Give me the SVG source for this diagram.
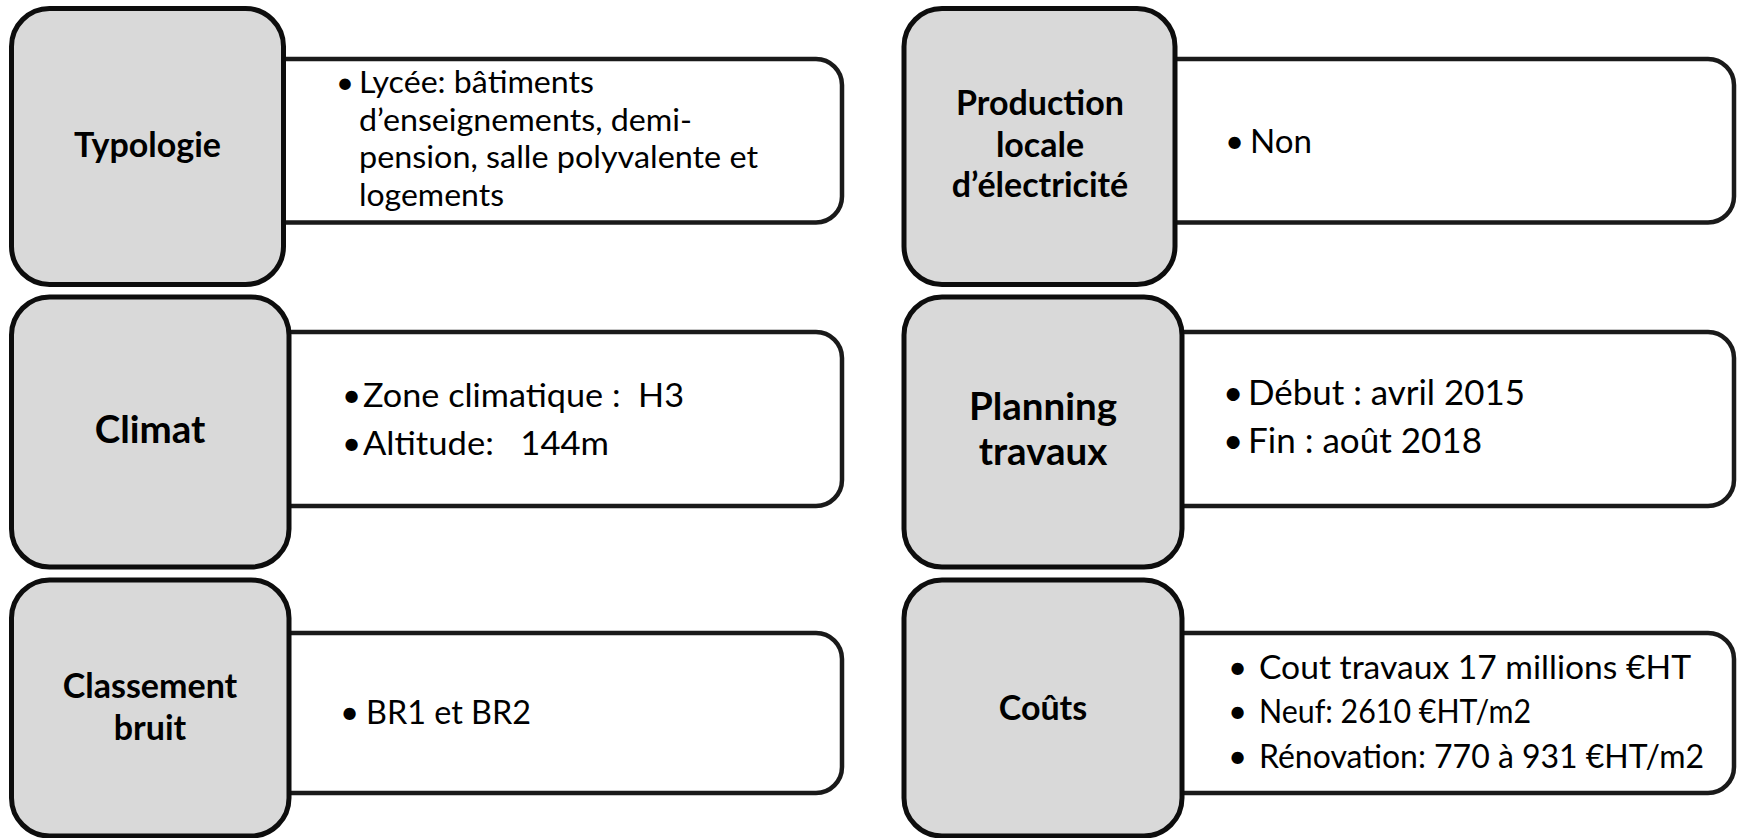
<svg xmlns="http://www.w3.org/2000/svg" width="1737" height="838" viewBox="0 0 1737 838">
<style>
.bg{fill:#ffffff}
.hd{fill:#d9d9d9;stroke:#0d0d0d;stroke-width:5}
.ct{fill:#ffffff;stroke:#1a1a1a;stroke-width:4.5}
.ht{font-family:Lato,"Liberation Sans",sans-serif;font-weight:bold;fill:#000;text-anchor:middle}
.bt{font-family:Lato,"Liberation Sans",sans-serif;fill:#000}
</style>
<rect class="bg" x="0" y="0" width="1737" height="838"/>
<g id="connectors"></g>

<g id="typologie">
  <rect class="ct" x="240" y="59" width="602" height="163.5" rx="26"/>
  <rect class="hd" x="11.5" y="8.5" width="272" height="276" rx="38"/>
  <text class="ht" x="147.5" y="157" font-size="34">Typologie</text>
  <text class="bt" font-size="31" x="336" y="93">•</text>
  <text class="bt" font-size="31" x="359" y="93" textLength="235" lengthAdjust="spacingAndGlyphs">Lycée: bâtiments</text>
  <text class="bt" font-size="31" x="359" y="130.5" textLength="333" lengthAdjust="spacingAndGlyphs">d’enseignements, demi-</text>
  <text class="bt" font-size="31" x="359" y="168" textLength="399" lengthAdjust="spacingAndGlyphs">pension, salle polyvalente et</text>
  <text class="bt" font-size="31" x="359" y="205.5" textLength="145" lengthAdjust="spacingAndGlyphs">logements</text>
</g>

<g id="climat">
  <rect class="ct" x="240" y="332" width="602" height="174" rx="26"/>
  <rect class="hd" x="11.5" y="297" width="277.5" height="270" rx="38"/>
  <text class="ht" x="150" y="443" font-size="38.5">Climat</text>
  <text class="bt" font-size="33" x="342" y="407">•</text>
  <text class="bt" font-size="33" x="363" y="407" xml:space="preserve" textLength="321" lengthAdjust="spacingAndGlyphs">Zone climatique :  H3</text>
  <text class="bt" font-size="33" x="342" y="455">•</text>
  <text class="bt" font-size="33" x="363" y="455" xml:space="preserve" textLength="246" lengthAdjust="spacingAndGlyphs">Altitude:   144m</text>
</g>

<g id="classement">
  <rect class="ct" x="240" y="633" width="602" height="160" rx="26"/>
  <rect class="hd" x="11.5" y="580" width="277.5" height="256" rx="38"/>
  <text class="ht" x="150" y="698" font-size="34">Classement</text>
  <text class="ht" x="150" y="740" font-size="34">bruit</text>
  <text class="bt" font-size="33" x="340" y="724">•</text>
  <text class="bt" font-size="33" x="366" y="724" textLength="165" lengthAdjust="spacingAndGlyphs">BR1 et BR2</text>
</g>

<g id="production">
  <rect class="ct" x="1130" y="59" width="604" height="163.5" rx="26"/>
  <rect class="hd" x="904" y="8.5" width="271" height="276" rx="38"/>
  <text class="ht" x="1040" y="115" font-size="34">Production</text>
  <text class="ht" x="1040" y="157" font-size="34">locale</text>
  <text class="ht" x="1040" y="197" font-size="34">d’électricité</text>
  <text class="bt" font-size="33" x="1225" y="153">•</text>
  <text class="bt" font-size="33" x="1250" y="153" textLength="62" lengthAdjust="spacingAndGlyphs">Non</text>
</g>

<g id="planning">
  <rect class="ct" x="1130" y="332" width="604" height="174" rx="26"/>
  <rect class="hd" x="904" y="297" width="278" height="270" rx="38"/>
  <text class="ht" x="1043" y="420" font-size="38.5">Planning</text>
  <text class="ht" x="1043" y="465" font-size="38.5">travaux</text>
  <text class="bt" font-size="35" x="1223" y="405">•</text>
  <text class="bt" font-size="35" x="1248" y="405" textLength="277" lengthAdjust="spacingAndGlyphs">Début : avril 2015</text>
  <text class="bt" font-size="35" x="1223" y="453">•</text>
  <text class="bt" font-size="35" x="1248" y="453" textLength="234" lengthAdjust="spacingAndGlyphs">Fin : août 2018</text>
</g>

<g id="couts">
  <rect class="ct" x="1130" y="633" width="604" height="160" rx="26"/>
  <rect class="hd" x="904" y="580" width="278" height="256" rx="38"/>
  <text class="ht" x="1043" y="720" font-size="34">Coûts</text>
  <text class="bt" font-size="33" x="1228" y="679">•</text>
  <text class="bt" font-size="33" x="1259" y="679" textLength="432" lengthAdjust="spacingAndGlyphs">Cout travaux 17 millions €HT</text>
  <text class="bt" font-size="33" x="1228" y="723">•</text>
  <text class="bt" font-size="33" x="1259" y="723" textLength="272" lengthAdjust="spacingAndGlyphs">Neuf: 2610 €HT/m2</text>
  <text class="bt" font-size="33" x="1228" y="768">•</text>
  <text class="bt" font-size="33" x="1259" y="768" textLength="445" lengthAdjust="spacingAndGlyphs">Rénovation: 770 à 931 €HT/m2</text>
</g>
</svg>
